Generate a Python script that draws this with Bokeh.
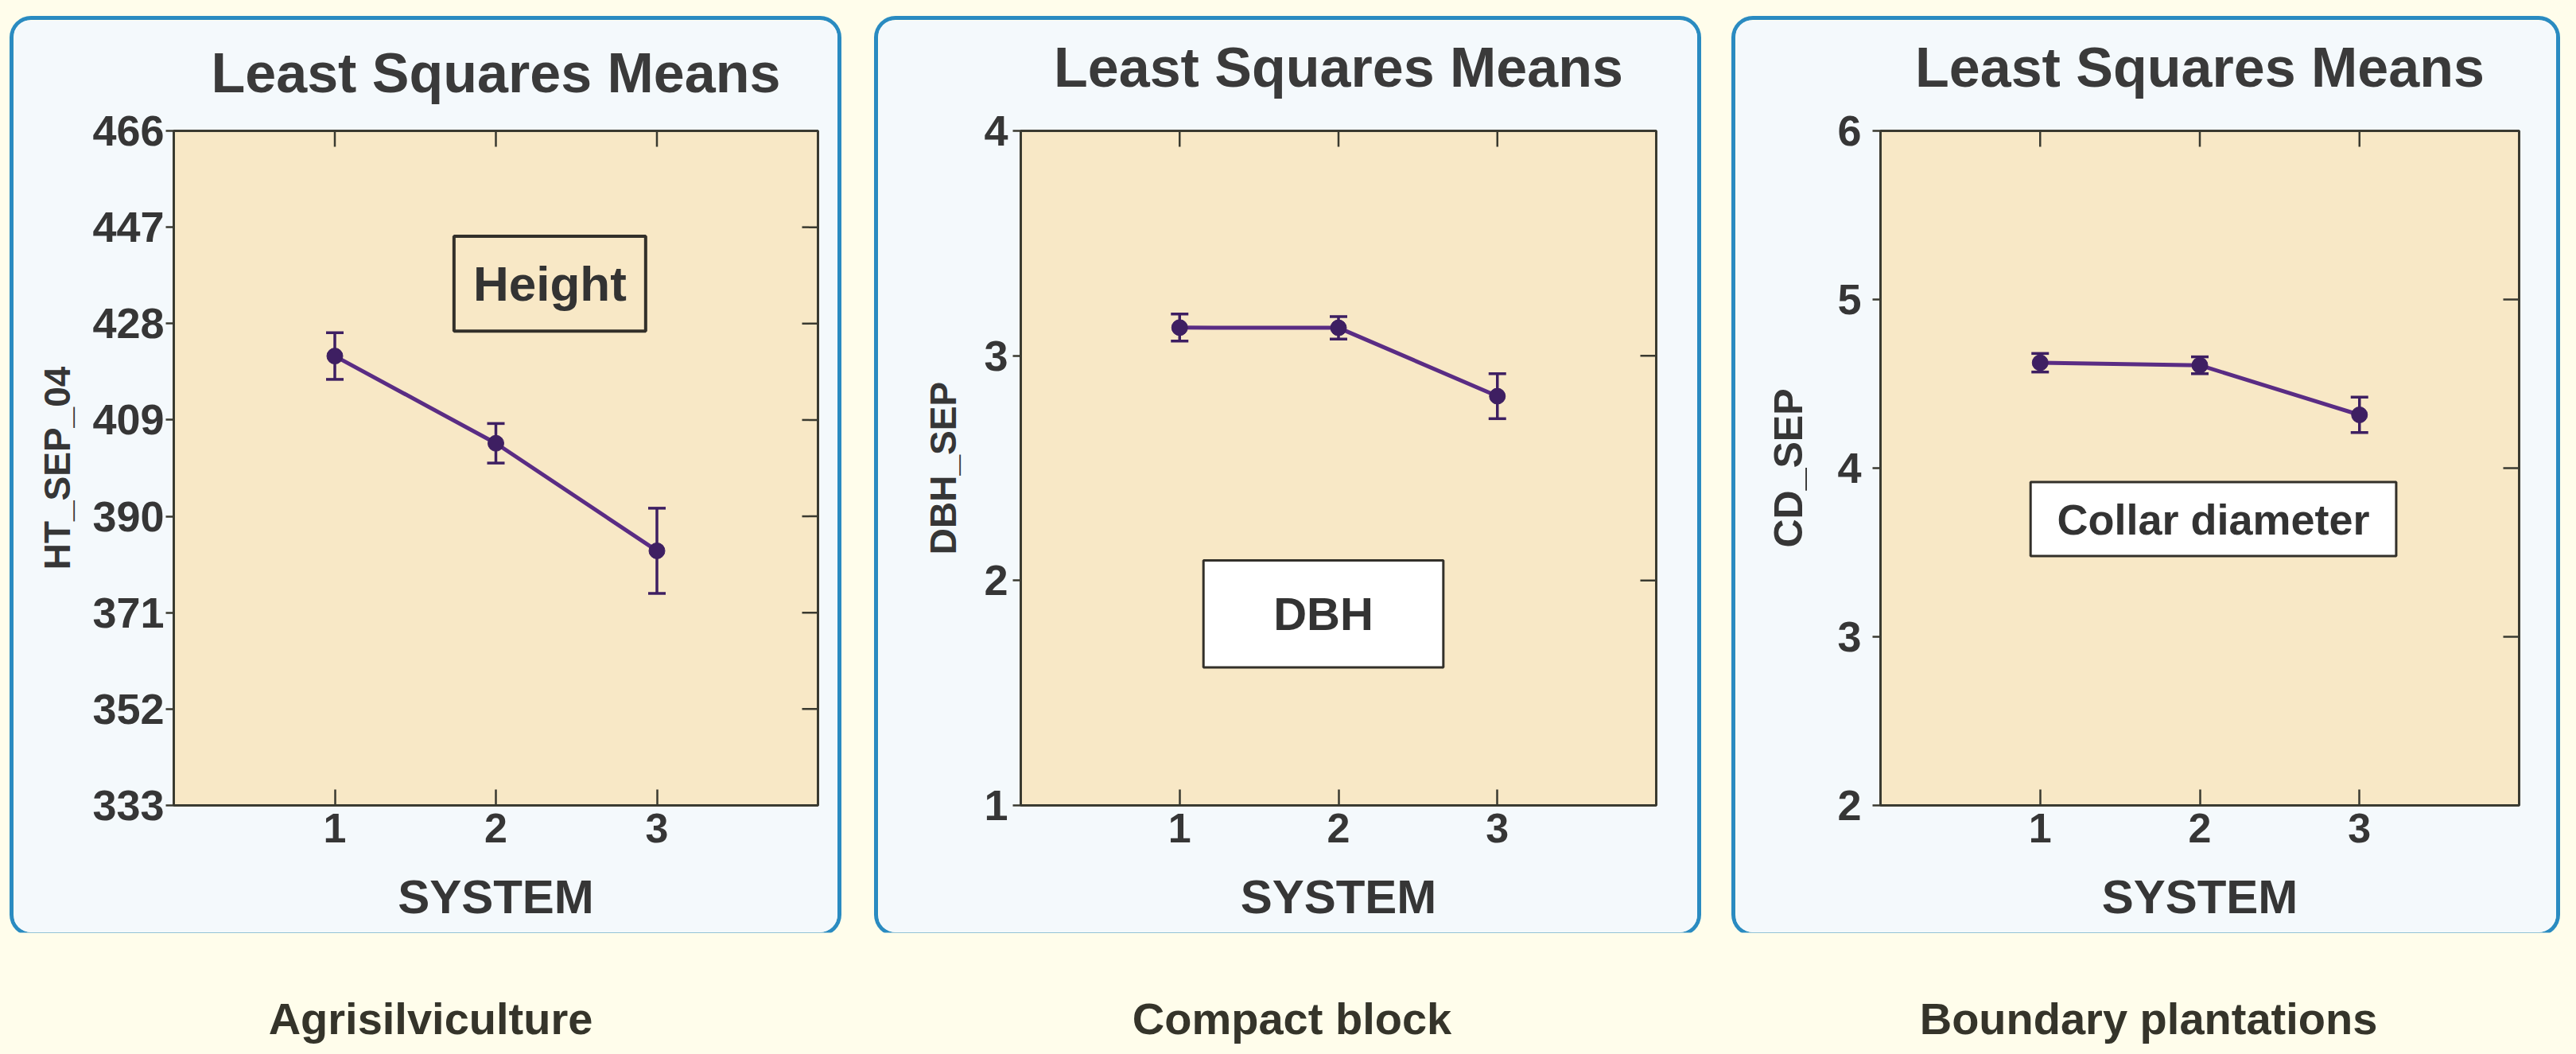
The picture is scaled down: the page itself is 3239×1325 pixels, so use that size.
import math
from bokeh.plotting import figure
from bokeh.models import (Range1d, FixedTicker, Whisker, TeeHead, LinearAxis,
                          ColumnDataSource, BoxAnnotation, Label)
from bokeh.layouts import row, column
from bokeh.embed import file_html
from bokeh.resources import INLINE
from bokeh.core.properties import value

# ---------------- data ----------------
systems = [1, 2, 3]

ht_mean = [421.6, 404.4, 383.2]
ht_err = [4.6, 3.9, 8.4]

dbh_mean = [3.125, 3.124, 2.82]
dbh_err = [0.06, 0.05, 0.10]

cd_mean = [4.625, 4.61, 4.316]
cd_err = [0.055, 0.05, 0.105]

ht_ticks = [333, 352, 371, 390, 409, 428, 447, 466]
dbh_ticks = [1, 2, 3, 4]
cd_ticks = [2, 3, 4, 5, 6]
x_ticks = [1, 2, 3]

panel_title = "Least Squares Means"
y_labels = ["HT_SEP_04", "DBH_SEP", "CD_SEP"]
x_label = "SYSTEM"
box_texts = ["Height", "DBH", "Collar diameter"]
captions = ["Agrisilviculture", "Compact block", "Boundary plantations"]

# ---------------- styles ----------------
FONT = "Liberation Sans"
TXT = "#363636"
PAGE_BG = "#FFFDEB"
PANEL_BG = "#F4F9FC"
PLOT_BG = "#F8E8C6"
BORDER = "#2A8BC1"
LINE_C = "#5A2C84"
MARK_C = "#3E1F62"
FRAME_C = "#3A3A30"
X_MIN, X_MAX = 0, 4


def make_panel(means, errs, yticks, ylabel, box, cfg):
    p = figure(width=cfg["w"], height=1147,
               x_range=Range1d(X_MIN, X_MAX), y_range=Range1d(yticks[0], yticks[-1]),
               output_backend="svg", toolbar_location=None,
               min_border_left=cfg["ml"], min_border_right=cfg["mr"],
               min_border_top=cfg["mt"], min_border_bottom=cfg["mb"],
               background_fill_color=PLOT_BG, border_fill_color=PANEL_BG,
               outline_line_color=FRAME_C, outline_line_width=3)
    p.margin = (25, 0, 0, cfg["gap"])
    p.styles = {"border-radius": "22px", "overflow": "hidden",
                "box-shadow": "0 0 0 5px " + BORDER}
    p.grid.visible = False

    xa = p.below[0]
    xa.ticker = FixedTicker(ticks=x_ticks)
    xa.major_tick_in = 20
    xa.major_tick_out = 0
    xa.major_tick_line_width = 2.5
    xa.major_tick_line_color = FRAME_C
    xa.minor_tick_line_color = None
    xa.axis_line_color = None
    xa.major_label_text_font = FONT
    xa.major_label_text_font_size = "52px"
    xa.major_label_text_font_style = "bold"
    xa.major_label_text_color = TXT
    xa.major_label_standoff = 10
    xa.axis_label = x_label
    xa.axis_label_text_font = FONT
    xa.axis_label_text_font_size = "60px"
    xa.axis_label_text_font_style = "bold"
    xa.axis_label_text_color = TXT
    xa.axis_label_standoff = 32

    ya = p.left[0]
    ya.ticker = FixedTicker(ticks=yticks)
    ya.major_tick_in = 0
    ya.major_tick_out = 10
    ya.major_tick_line_width = 2.5
    ya.major_tick_line_color = FRAME_C
    ya.minor_tick_line_color = None
    ya.axis_line_color = None
    ya.major_label_text_font = FONT
    ya.major_label_text_font_size = "54px"
    ya.major_label_text_font_style = "bold"
    ya.major_label_text_color = TXT
    ya.major_label_standoff = cfg["ls"]
    ya.axis_label = ylabel
    ya.axis_label_text_font = FONT
    ya.axis_label_text_font_size = cfg["yfs"]
    ya.axis_label_text_font_style = "bold"
    ya.axis_label_text_color = TXT
    ya.axis_label_standoff = cfg["als"]

    # panel heading: label of a tick-less axis above the frame
    head = LinearAxis(ticker=FixedTicker(ticks=[]), axis_line_color=None,
                      major_tick_out=0, major_tick_in=0, major_label_standoff=0,
                      minor_tick_line_color=None,
                      axis_label=panel_title, axis_label_standoff=cfg["ts"],
                      axis_label_text_font=FONT, axis_label_text_font_size="70px",
                      axis_label_text_font_style="bold",
                      axis_label_text_color="#3A3A3A")
    p.add_layout(head, "above")

    # inward tick marks on the top and right frame edges
    p.ray(x=x_ticks, y=[yticks[-1]] * len(x_ticks), length=20,
          length_units="screen", angle=-math.pi / 2,
          line_color=FRAME_C, line_width=2.5)
    p.ray(x=[X_MAX] * len(yticks), y=yticks, length=20,
          length_units="screen", angle=math.pi,
          line_color=FRAME_C, line_width=2.5)

    src = ColumnDataSource(dict(
        x=systems, y=means,
        upper=[m + e for m, e in zip(means, errs)],
        lower=[m - e for m, e in zip(means, errs)]))

    p.line("x", "y", source=src, line_color=LINE_C, line_width=5)
    wh = Whisker(base="x", upper="upper", lower="lower", source=src,
                 line_color=MARK_C, line_width=3.5,
                 upper_head=TeeHead(size=22, line_color=MARK_C, line_width=3.5),
                 lower_head=TeeHead(size=22, line_color=MARK_C, line_width=3.5))
    p.add_layout(wh)
    p.scatter("x", "y", source=src, size=20, fill_color=MARK_C,
              line_color=MARK_C)

    b = BoxAnnotation(left=box["l"], right=box["r"], bottom=box["b"], top=box["t"],
                      fill_color=box["fill"], fill_alpha=1.0 if box["fill"] else 0.0,
                      line_color="#33302A", line_width=box["lw"], line_alpha=1.0)
    p.add_layout(b)
    lab = Label(x=(box["l"] + box["r"]) / 2, y=(box["b"] + box["t"]) / 2,
                text=box["text"], text_align="center", text_baseline="middle",
                text_font=FONT, text_font_size=box["fs"], text_font_style="bold",
                text_color="#333333")
    p.add_layout(lab)
    return p


p1 = make_panel(ht_mean, ht_err, ht_ticks, y_labels[0],
                dict(l=1.74, r=2.93, b=426.5, t=445.2, fill=None, lw=4,
                     text=box_texts[0], fs="62px"),
                dict(w=1036, ml=201, mr=25, mt=132, mb=158, gap=17, ts=34,
                     ls=2, als=15, yfs="46px"))
p2 = make_panel(dbh_mean, dbh_err, dbh_ticks, y_labels[1],
                dict(l=1.15, r=2.66, b=1.614, t=2.09, fill="white", lw=3,
                     text=box_texts[1], fs="58px"),
                dict(w=1030, ml=179, mr=52, mt=139, mb=160, gap=51, ts=41,
                     ls=6, als=22, yfs="46px"))
p3 = make_panel(cd_mean, cd_err, cd_ticks, y_labels[2],
                dict(l=0.94, r=3.23, b=3.479, t=3.917, fill="white", lw=3,
                     text=box_texts[2], fs="54px"),
                dict(w=1032, ml=182, mr=47, mt=139, mb=159, gap=48, ts=41,
                     ls=14, als=30, yfs="50px"))

# caption strip below the panels
cap_x = [541, 1624, 2701]
cap_y = [42, 42, 42]
cap = figure(width=3230, height=150, x_range=Range1d(0, 3230),
             y_range=Range1d(0, 150), output_backend="svg",
             toolbar_location=None, min_border=0,
             x_axis_location=None, y_axis_location=None,
             background_fill_color=PAGE_BG, border_fill_color=PAGE_BG,
             outline_line_color=None)
cap.grid.visible = False
cap.text(x=cap_x, y=cap_y, text=captions, text_align="center",
         text_baseline="middle", text_font=value(FONT),
         text_font_size="56px", text_font_style="bold", text_color="#35342A")

layout = column(row(p1, p2, p3, styles={"background-color": PAGE_BG}), cap,
                styles={"background-color": PAGE_BG})

template = """
{% block postamble %}
<style>html, body { background-color: #FFFDEB; }</style>
{% endblock %}
"""

open("out.html", "w").write(file_html(layout, INLINE, title="Least Squares Means",
                                      template=template))
